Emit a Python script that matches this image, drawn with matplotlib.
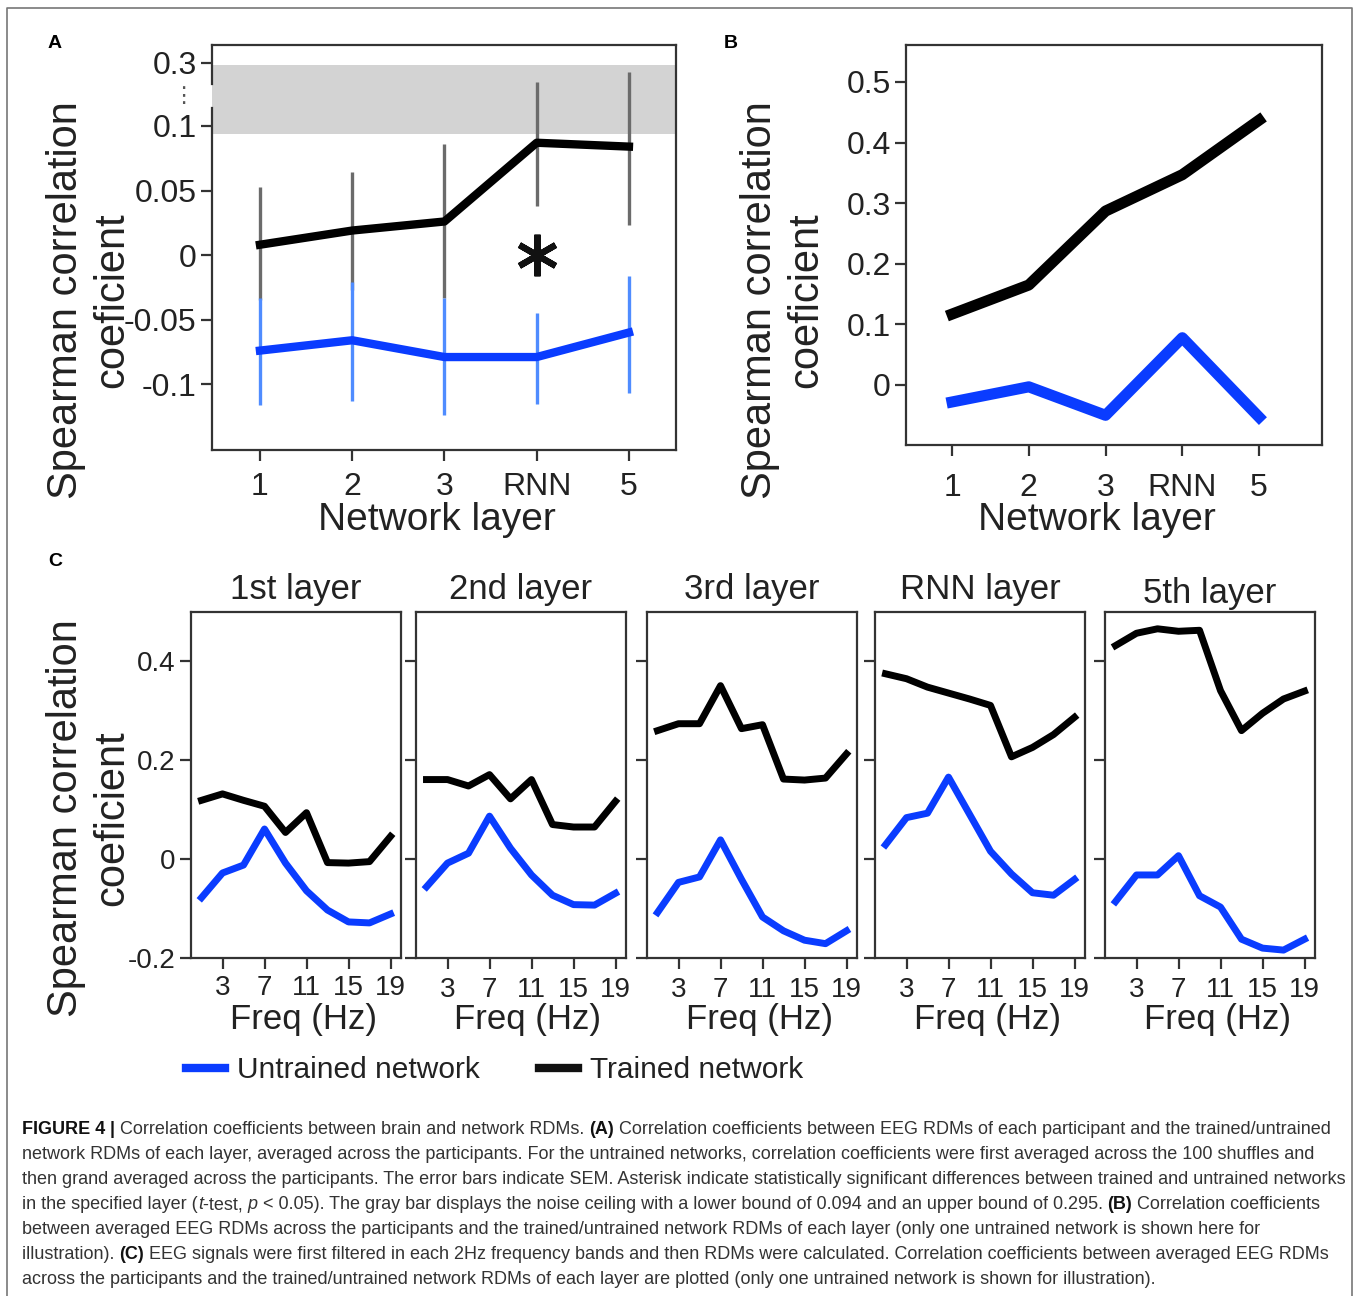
import numpy as np
import matplotlib
matplotlib.use('Agg')
import matplotlib.pyplot as plt
from matplotlib.lines import Line2D
from matplotlib.font_manager import FontProperties

plt.rcParams['font.family'] = ['Liberation Sans', 'DejaVu Sans']

W, H = 1358, 1296

# Panel A: mean correlation per layer with SEM range (lower/upper ends of bars)
layers = ['1', '2', '3', 'RNN', '5']
a_trained = [0.008, 0.019, 0.026, 0.087, 0.084]
a_trained_lo = [-0.035, -0.027, -0.033, 0.038, 0.023]
a_trained_hi = [0.053, 0.064, 0.086, 0.24, 0.27]
a_untrained = [-0.074, -0.066, -0.079, -0.079, -0.060]
a_untrained_lo = [-0.116, -0.113, -0.124, -0.115, -0.107]
a_untrained_hi = [-0.033, -0.021, -0.033, -0.045, -0.016]
noise_ceiling = [0.094, 0.295]
sig_layer = 'RNN'

# Panel B
b_trained = [0.117, 0.165, 0.287, 0.347, 0.437]
b_untrained = [-0.028, -0.003, -0.050, 0.078, -0.053]

# Panel C: 2 Hz frequency bands
freqs = [1, 3, 5, 7, 9, 11, 13, 15, 17, 19]
c_titles = ['1st layer', '2nd layer', '3rd layer', 'RNN layer', '5th layer']
trained_l1 = [0.119, 0.132, 0.119, 0.107, 0.054, 0.094, -0.007, -0.008, -0.005, 0.046]
trained_l2 = [0.161, 0.161, 0.148, 0.171, 0.122, 0.161, 0.070, 0.065, 0.065, 0.117]
trained_l3 = [0.260, 0.274, 0.274, 0.351, 0.264, 0.272, 0.162, 0.160, 0.164, 0.213]
trained_rnn = [0.375, 0.365, 0.348, 0.336, 0.324, 0.311, 0.207, 0.226, 0.252, 0.287]
trained_l5 = [0.432, 0.457, 0.466, 0.461, 0.463, 0.341, 0.260, 0.295, 0.324, 0.340]
untrained_l1 = [-0.078, -0.028, -0.012, 0.061, -0.008, -0.064, -0.103, -0.127, -0.129, -0.111]
untrained_l2 = [-0.056, -0.008, 0.012, 0.087, 0.022, -0.032, -0.073, -0.092, -0.093, -0.069]
untrained_l3 = [-0.108, -0.047, -0.036, 0.039, -0.041, -0.117, -0.145, -0.164, -0.171, -0.145]
untrained_rnn = [0.029, 0.084, 0.093, 0.166, 0.091, 0.016, -0.030, -0.068, -0.073, -0.041]
untrained_l5 = [-0.086, -0.032, -0.032, 0.007, -0.074, -0.097, -0.162, -0.180, -0.184, -0.162]
c_trained = [trained_l1, trained_l2, trained_l3, trained_rnn, trained_l5]
c_untrained = [untrained_l1, untrained_l2, untrained_l3, untrained_rnn, untrained_l5]

BLUE = '#0a3cff'
AXC = '#333333'
TXT = '#222222'
YLABEL = 'Spearman correlation\ncoeficient'

fig = plt.figure(figsize=(W / 100, H / 100), dpi=100)


def add_axes_px(left, top, right, bottom):
    return fig.add_axes([left / W, 1 - bottom / H, (right - left) / W, (bottom - top) / H])


def fig_text_px(x, y, s, **kw):
    return fig.text(x / W, 1 - y / H, s, **kw)


def style(ax, size, xpad=3):
    for sp in ax.spines.values():
        sp.set_color(AXC)
        sp.set_linewidth(1.6)
    ax.tick_params(direction='out', length=8, width=1.6, color=AXC,
                   labelsize=size, labelcolor=TXT, pad=3)
    ax.tick_params(axis='x', pad=xpad)


# outer frame
fig.add_artist(Line2D([7 / W, 7 / W, 1352 / W, 1352 / W], [0, 1 - 8 / H, 1 - 8 / H, 0],
                      color='#777777', lw=1.2))

# ---------- A ----------
K = 0.244


def fwd(y):
    y = np.asarray(y, dtype=float)
    return np.where(y > 0.1, 0.1 + (y - 0.1) * K, y)


def inv(y):
    y = np.asarray(y, dtype=float)
    return np.where(y > 0.1, 0.1 + (y - 0.1) / K, y)


axA = add_axes_px(212, 45, 676, 450)
axA.set_yscale('function', functions=(fwd, inv))
x = np.arange(1, len(layers) + 1)
axA.axhspan(noise_ceiling[0], noise_ceiling[1], color='#d3d3d3', lw=0, zorder=0)
axA.vlines(x, a_trained_lo, a_trained_hi, color='#6b6b6b', lw=2.4, zorder=2)
axA.vlines(x, a_untrained_lo, a_untrained_hi, color='#4f8cff', lw=2.4, zorder=2)
axA.plot(x, a_trained, color='black', lw=6, zorder=3)
axA.plot(x, a_untrained, color=BLUE, lw=6, zorder=3)
axA.plot(layers.index(sig_layer) + 1, 0, marker=(6, 2, 0), ms=30, mew=4.5,
         color='#111111', zorder=4)
axA.set_xlim(0.48, 5.51)
axA.set_ylim(-0.151, 0.357)
axA.set_yticks([-0.1, -0.05, 0, 0.05, 0.1, 0.3])
axA.set_yticklabels(['-0.1', '-0.05', '0', '0.05', '0.1', '0.3'])
axA.yaxis.set_minor_locator(matplotlib.ticker.NullLocator())
axA.set_xticks(x)
axA.set_xticklabels(layers)
style(axA, 23, xpad=8)
# broken y axis
axA.spines['left'].set_bounds(-0.151, 0.157)
axA.plot([0, 0], [0.233, 0.357], transform=axA.get_yaxis_transform(),
         color=AXC, lw=1.6, clip_on=False)
axA.text(-0.063, 0.195, '\u22ee', transform=axA.get_yaxis_transform(),
         ha='center', va='center', fontsize=16, color='#555555',
         family='DejaVu Sans')

fig_text_px(55, 44, 'A', fontsize=14, weight='bold', ha='center', va='center')
fig_text_px(89, 300, YLABEL, fontsize=30, rotation=90, ha='center', va='center',
            color=TXT, multialignment='center')
fig_text_px(437, 520, 'Network layer', fontsize=28, ha='center', va='center', color=TXT)

# ---------- B ----------
axB = add_axes_px(906, 45, 1322, 445)
axB.plot(x, b_trained, color='black', lw=8)
axB.plot(x, b_untrained, color=BLUE, lw=8)
axB.set_xlim(0.4, 5.82)
axB.set_ylim(-0.099, 0.561)
axB.set_yticks([0, 0.1, 0.2, 0.3, 0.4, 0.5])
axB.set_yticklabels(['0', '0.1', '0.2', '0.3', '0.4', '0.5'])
axB.set_xticks(x)
axB.set_xticklabels(layers)
style(axB, 23, xpad=12)

fig_text_px(731, 44, 'B', fontsize=14, weight='bold', ha='center', va='center')
fig_text_px(783, 300, YLABEL, fontsize=30, rotation=90, ha='center', va='center',
            color=TXT, multialignment='center')
fig_text_px(1097, 520, 'Network layer', fontsize=28, ha='center', va='center', color=TXT)

# ---------- C ----------
c_lefts = [191, 416, 647, 875, 1105]
for i, left in enumerate(c_lefts):
    ax = add_axes_px(left, 612, left + 210, 958)
    ax.plot(freqs, c_trained[i], color='black', lw=5)
    ax.plot(freqs, c_untrained[i], color=BLUE, lw=5)
    ax.set_xlim(0, 20)
    ax.set_ylim(-0.2, 0.5)
    ax.set_xticks([3, 7, 11, 15, 19])
    ax.set_yticks([-0.2, 0, 0.2, 0.4])
    style(ax, 20, xpad=4 if i == 0 else 6)
    if i == 0:
        ax.set_yticklabels(['-0.2', '0', '0.2', '0.4'], fontsize=20)
    else:
        ax.set_yticklabels([])
    fig_text_px(left + 105, 590 if i < 4 else 594, c_titles[i], fontsize=25,
                ha='center', va='center', color=TXT)
    fig_text_px(left + 112, 1020, 'Freq (Hz)', fontsize=25, ha='center', va='center',
                color=TXT)

fig_text_px(55, 562, 'C', fontsize=14, weight='bold', ha='center', va='center')
fig_text_px(89, 818, YLABEL, fontsize=30, rotation=90, ha='center', va='center',
            color=TXT, multialignment='center')

handles = [Line2D([], [], color=BLUE, lw=6), Line2D([], [], color='#111111', lw=6)]
fig.legend(handles, ['Untrained network', 'Trained network'], loc='center left',
           bbox_to_anchor=(186 / W, 1 - 1070 / H), ncol=2, frameon=False,
           fontsize=21.5, handlelength=1.3, handletextpad=0.4, columnspacing=2.0,
           borderpad=0, borderaxespad=0, labelcolor=TXT)

# ---------- caption ----------
N, B_, I_ = 'normal', 'bold', 'italic'
caption = [
    [('FIGURE 4', B_), (' | ', B_), ('Correlation coefficients between brain and network RDMs. ', N),
     ('(A)', B_), (' Correlation coefficients between EEG RDMs of each participant and the trained/untrained', N)],
    [('network RDMs of each layer, averaged across the participants. For the untrained networks, '
      'correlation coefficients were first averaged across the 100 shuffles and', N)],
    [('then grand averaged across the participants. The error bars indicate SEM. Asterisk indicate '
      'statistically significant differences between trained and untrained networks', N)],
    [('in the specified layer (', N), ('t', I_), ('-test, ', N), ('p', I_),
     (' < 0.05). The gray bar displays the noise ceiling with a lower bound of 0.094 and an upper '
      'bound of 0.295. ', N), ('(B)', B_), (' Correlation coefficients', N)],
    [('between averaged EEG RDMs across the participants and the trained/untrained network RDMs of '
      'each layer (only one untrained network is shown here for', N)],
    [('illustration). ', N), ('(C)', B_), (' EEG signals were first filtered in each 2Hz frequency '
      'bands and then RDMs were calculated. Correlation coefficients between averaged EEG RDMs', N)],
    [('across the participants and the trained/untrained network RDMs of each layer are plotted '
      '(only one untrained network is shown for illustration).', N)],
]

renderer = fig.canvas.get_renderer()


def seg_props(kind, size):
    return FontProperties(family=['Liberation Sans'], size=size,
                          weight='bold' if kind == B_ else 'normal',
                          style='italic' if kind == I_ else 'normal')


def seg_width(s, kind, size):
    prop = seg_props(kind, size)
    w1 = renderer.get_text_width_height_descent('x' + s + 'x', prop, ismath=False)[0]
    w0 = renderer.get_text_width_height_descent('xx', prop, ismath=False)[0]
    return w1 - w0


base = 12.0
line1_w = sum(seg_width(s, k, base) for s, k in caption[0])
cap_size = base * 1310 / line1_w

for j, line in enumerate(caption):
    cur = 22.0
    y = 1134 + 25 * j
    for s, kind in line:
        fig.text(cur / W, 1 - y / H, s, fontproperties=seg_props(kind, cap_size),
                 color='#111111' if kind == B_ else '#333333', va='baseline', ha='left')
        cur += seg_width(s, kind, cap_size)

fig.savefig('out.png', dpi=100)
